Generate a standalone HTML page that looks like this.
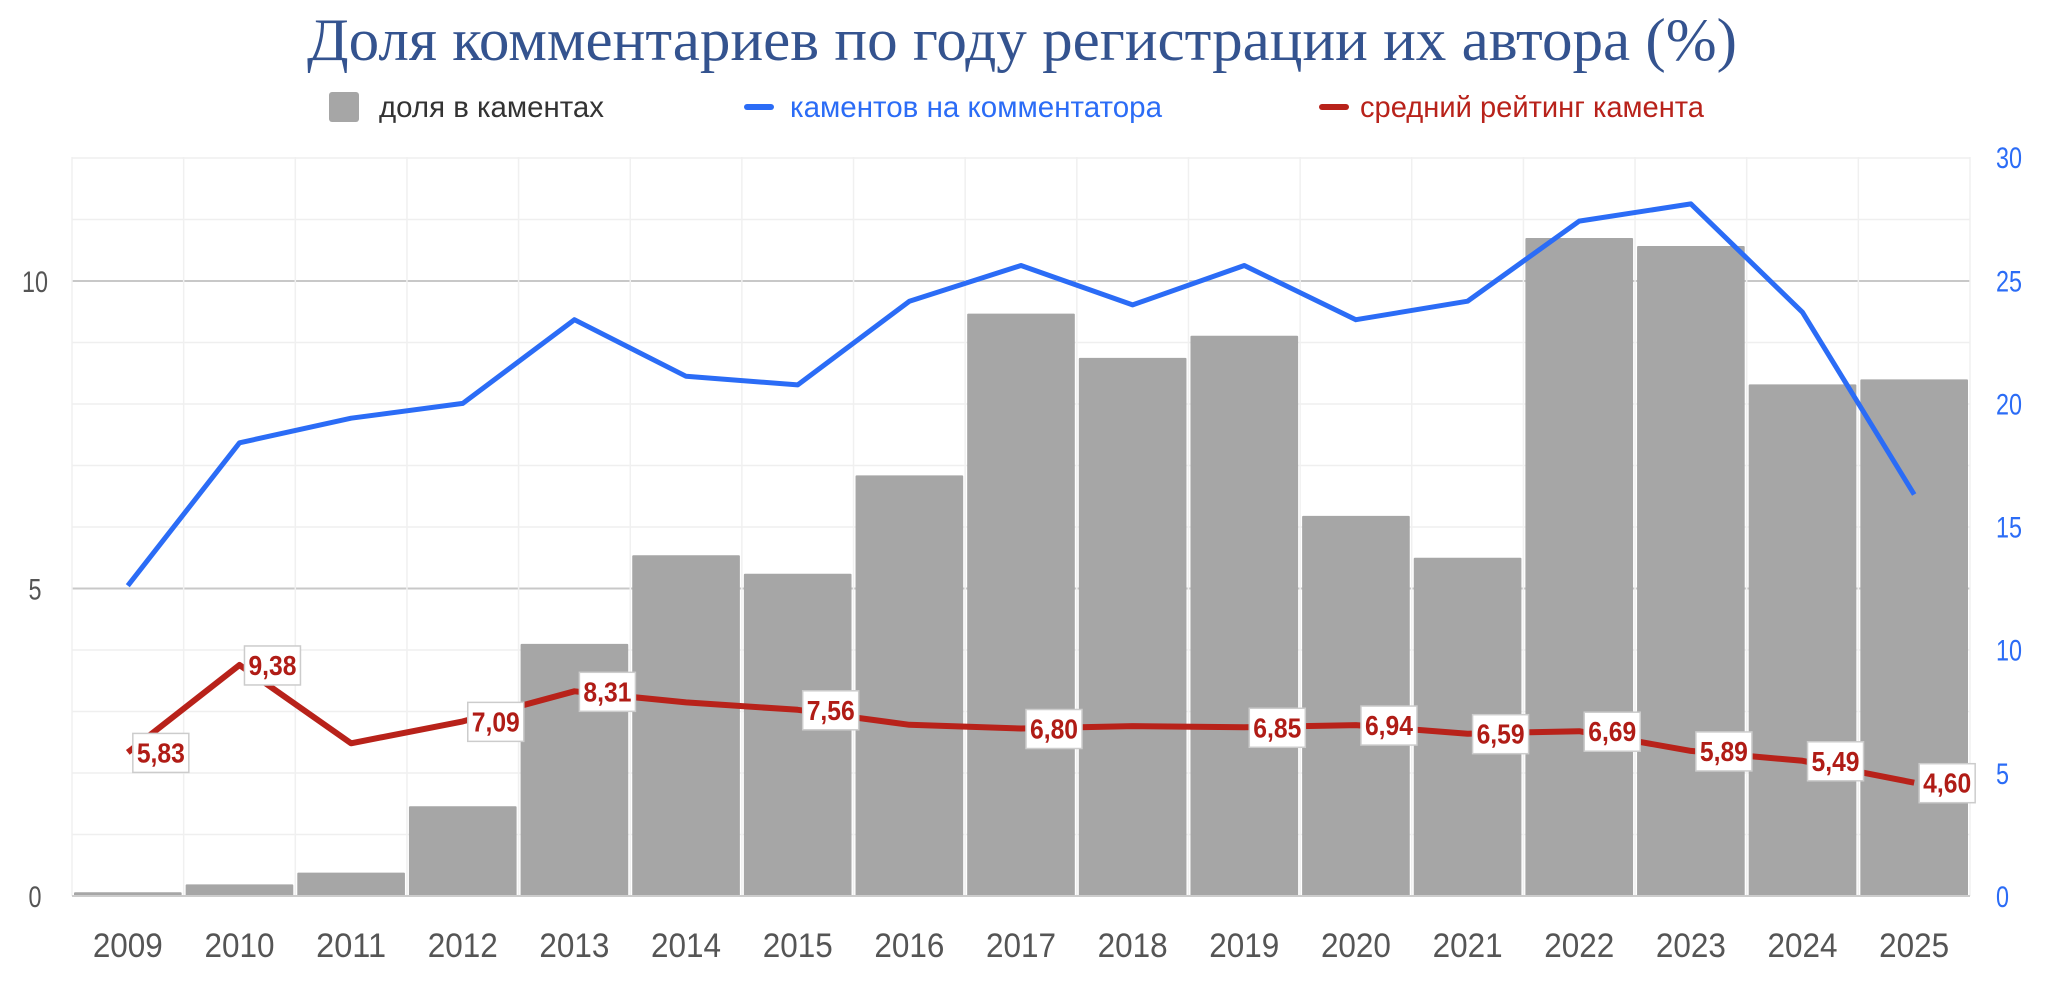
<!DOCTYPE html>
<html><head><meta charset="utf-8"><style>
html,body{margin:0;padding:0;background:#fff;width:2048px;height:991px;overflow:hidden}
svg{display:block}
</style></head><body>
<svg id="c" width="2048" height="991" xmlns="http://www.w3.org/2000/svg">
<text x="1022" y="60" text-anchor="middle" font-family="Liberation Serif, serif" font-size="60" fill="#34538f" textLength="1430" lengthAdjust="spacingAndGlyphs">Доля комментариев по году регистрации их автора (%)</text>
<rect x="329" y="92" width="30" height="30" rx="3" fill="#a6a6a6"/>
<text x="379" y="117" font-family="Liberation Sans, sans-serif" font-size="30" fill="#333" textLength="225" lengthAdjust="spacingAndGlyphs">доля в каментах</text>
<rect x="744" y="104" width="30" height="6" rx="3" fill="#2b6cf6"/>
<text x="790" y="117" font-family="Liberation Sans, sans-serif" font-size="30" fill="#2b6cf6" textLength="372" lengthAdjust="spacingAndGlyphs">каментов на комментатора</text>
<rect x="1319" y="104" width="30" height="6" rx="3" fill="#b8221a"/>
<text x="1360" y="117" font-family="Liberation Sans, sans-serif" font-size="30" fill="#b8221a" textLength="344" lengthAdjust="spacingAndGlyphs">средний рейтинг камента</text>
<g id="g"></g>
</svg>
<script>
var g=document.getElementById('g'),h='';
var L=72,R=1970,B=896,W=(R-L)/17,UL=61.5,UR=24.63;
for(var i=1;i<=12;i++){var y=B-i*UL;h+='<line x1="'+L+'" x2="'+R+'" y1="'+y+'" y2="'+y+'" stroke="'+(i%5==0?'#c8c8c8':'#efefef')+'" stroke-width="'+(i%5==0?2:1.5)+'"/>';}
for(var i=0;i<=17;i++){var x=L+i*W;h+='<line x1="'+x+'" x2="'+x+'" y1="157" y2="'+B+'" stroke="#f0f0f0" stroke-width="1.5"/>';}
var bars=[0.06,0.19,0.38,1.46,4.1,5.54,5.24,6.84,9.47,8.75,9.11,6.18,5.5,10.7,10.57,8.32,8.4];
var blue=[12.6,18.4,19.4,20.0,23.4,21.1,20.75,24.15,25.6,24.0,25.6,23.4,24.15,27.4,28.1,23.7,16.3];
var red=[5.83,9.38,6.2,7.09,8.31,7.86,7.56,6.95,6.80,6.9,6.85,6.94,6.59,6.69,5.89,5.49,4.60];
var lab=[1,1,0,1,1,0,1,0,1,0,1,1,1,1,1,1,1];
for(var i=0;i<17;i++){var x=L+i*W+2,hh=bars[i]*UL;h+='<rect x="'+x+'" y="'+(B-hh)+'" width="'+(W-4)+'" height="'+hh+'" fill="#a6a6a6" rx="1"/>';}
h+='<line x1="'+L+'" x2="'+R+'" y1="'+B+'" y2="'+B+'" stroke="#ccc" stroke-width="2"/>';
function pts(a){return a.map(function(v,i){return (L+W/2+i*W).toFixed(1)+','+(B-v*UR).toFixed(1)}).join(' ');}
h+='<polyline points="'+pts(blue)+'" fill="none" stroke="#2b6cf6" stroke-width="5" stroke-linejoin="round"/>';
h+='<polyline points="'+pts(red)+'" fill="none" stroke="#b8221a" stroke-width="6" stroke-linejoin="round"/>';
for(var i=0;i<17;i++){if(!lab[i])continue;var x=L+W/2+i*W,y=B-red[i]*UR;
h+='<rect x="'+(x+5)+'" y="'+(y-19)+'" width="56" height="39" fill="#fff" stroke="#ccc" stroke-width="1.5"/>';
h+='<text x="'+(x+33)+'" y="'+(y+10)+'" text-anchor="middle" font-family="Liberation Sans, sans-serif" font-weight="bold" font-size="28" fill="#b01c16" textLength="48" lengthAdjust="spacingAndGlyphs">'+red[i].toFixed(2).replace('.',',')+'</text>';}
[0,5,10].forEach(function(v){h+='<text x="35" y="'+(B-v*UL+11)+'" text-anchor="middle" font-family="Liberation Sans, sans-serif" font-size="30" fill="#555" textLength="'+(v==10?26:13)+'" lengthAdjust="spacingAndGlyphs">'+v+'</text>';});
[0,5,10,15,20,25,30].forEach(function(v){h+='<text x="1996" y="'+(B-v*UR+11)+'" font-family="Liberation Sans, sans-serif" font-size="30" fill="#2b6cf6" textLength="'+(v>=10?26:13)+'" lengthAdjust="spacingAndGlyphs">'+v+'</text>';});
for(var i=0;i<17;i++){h+='<text x="'+(L+W/2+i*W)+'" y="957" text-anchor="middle" font-family="Liberation Sans, sans-serif" font-size="34" fill="#555" textLength="70" lengthAdjust="spacingAndGlyphs">'+(2009+i)+'</text>';}
g.innerHTML=h;
</script>
</body></html>
